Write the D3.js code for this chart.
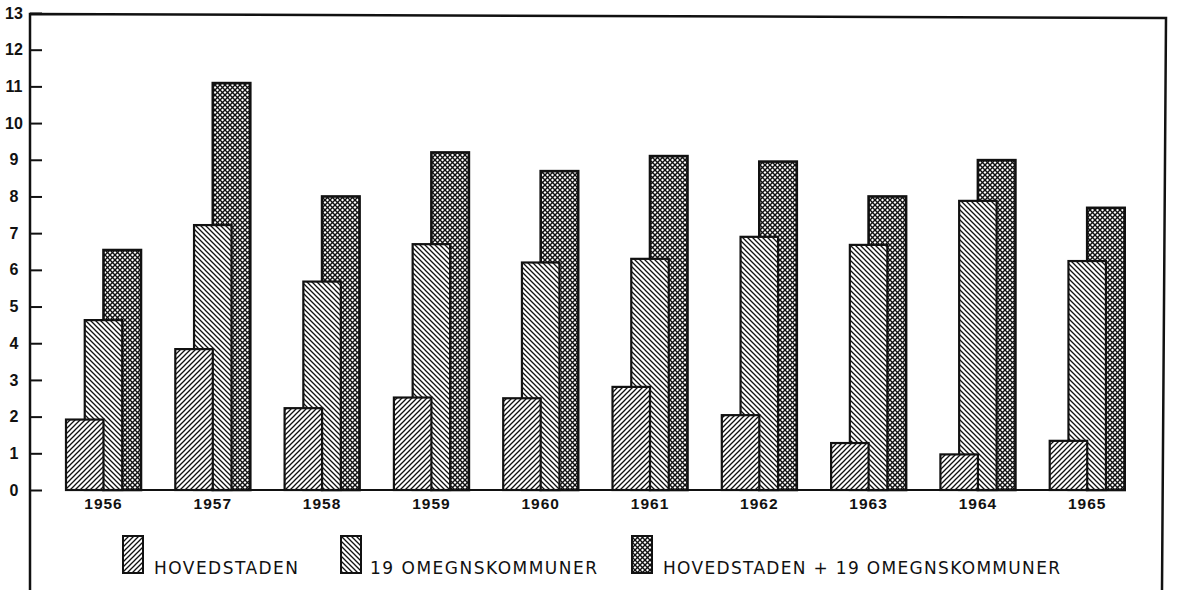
<!DOCTYPE html>
<html>
<head>
<meta charset="utf-8">
<script src="https://cdn.jsdelivr.net/npm/d3@7"></script>
<style>
  html, body { margin: 0; padding: 0; background: #fff; }
  svg { display: block; }
</style>
</head>
<body>
<svg id="chart" width="1177" height="590"></svg>
<script>
// ---- data ----
const years = ["1956","1957","1958","1959","1960","1961","1962","1963","1964","1965"];
const hovedstaden = [1.92, 3.84, 2.23, 2.52, 2.50, 2.81, 2.04, 1.28, 0.97, 1.34];
const omegn       = [4.63, 7.22, 5.68, 6.70, 6.20, 6.30, 6.90, 6.68, 7.88, 6.24];
const combined    = [6.54, 11.09, 8.00, 9.20, 8.69, 9.10, 8.95, 8.00, 8.99, 7.69];
const yTicks = [0,1,2,3,4,5,6,7,8,9,10,11,12,13];
const seriesNames = ["HOVEDSTADEN", "19 OMEGNSKOMMUNER", "HOVEDSTADEN + 19 OMEGNSKOMMUNER"];

const svg = d3.select("#chart");
const ink = "#111";

// ---- patterns ----
const defs = svg.append("defs");
function hatch(id, dirs, sw, size) {
  const p = defs.append("pattern").attr("id", id)
    .attr("patternUnits", "userSpaceOnUse")
    .attr("width", size).attr("height", size);
  p.append("rect").attr("width", size).attr("height", size).attr("fill", "#fff");
  dirs.forEach(d => {
    const s = size;
    const path = d === "/"
      ? `M${-1},${1} L${1},${-1} M0,${s} L${s},0 M${s-1},${s+1} L${s+1},${s-1}`
      : `M${-1},${s-1} L${1},${s+1} M0,0 L${s},${s} M${s-1},${-1} L${s+1},${1}`;
    p.append("path").attr("d", path).attr("stroke", ink)
      .attr("stroke-width", sw).attr("stroke-linecap", "square");
  });
}
hatch("pH", ["/"], 1.3, 5);
hatch("pO", ["\\"], 1.3, 5);
hatch("pC", ["/", "\\"], 1.4, 5);
const fills = ["url(#pH)", "url(#pO)", "url(#pC)"];

// ---- scales ----
const y = d3.scaleLinear().domain([0, 13]).range([490, 13]);
const x = d3.scaleBand().domain(years).range([66, 1124.7])
  .paddingInner(0.314).paddingOuter(0);
const bw = x.bandwidth() / 2;
const off = [0, x.bandwidth() / 4, x.bandwidth() / 2];

// ---- frame ----
svg.append("path")
  .attr("d", "M30,590 L30,14 L1166,18 L1162,590")
  .attr("fill", "none").attr("stroke", ink).attr("stroke-width", 2.5);

// ---- y axis ----
const yAxis = svg.append("g").attr("transform", "translate(30,0)")
  .call(d3.axisLeft(y).tickValues(yTicks).tickSize(-12).tickFormat(d3.format("d")));
yAxis.select(".domain").remove();
yAxis.selectAll(".tick line").attr("stroke", ink).attr("stroke-width", 2);
yAxis.selectAll(".tick text")
  .attr("x", -16).attr("text-anchor", "middle")
  .attr("font-family", "Liberation Sans, Arial, sans-serif")
  .attr("font-weight", "bold").attr("font-size", 16).attr("fill", ink);

// ---- bars (back to front: combined, omegn, hovedstaden) ----
const series = [hovedstaden, omegn, combined];
[2, 1, 0].forEach(si => {
  svg.append("g").selectAll("rect").data(years).join("rect")
    .attr("x", (d) => x(d) + off[si])
    .attr("y", (d, i) => y(series[si][i]))
    .attr("width", bw)
    .attr("height", (d, i) => y(0) - y(series[si][i]))
    .attr("fill", fills[si])
    .attr("stroke", ink)
    .attr("stroke-width", si === 2 ? 2.6 : 2.2);
});

// ---- baseline ----
svg.append("line")
  .attr("x1", x(years[0])).attr("x2", x(years[years.length - 1]) + x.bandwidth())
  .attr("y1", y(0)).attr("y2", y(0))
  .attr("stroke", ink).attr("stroke-width", 2.2);

// ---- x axis labels ----
const xAxis = svg.append("g").attr("transform", `translate(0,${y(0)})`)
  .call(d3.axisBottom(x).tickSize(0).tickPadding(8));
xAxis.select(".domain").remove();
xAxis.selectAll(".tick text")
  .attr("font-family", "Liberation Sans, Arial, sans-serif")
  .attr("font-weight", "bold").attr("font-size", 15.5)
  .attr("letter-spacing", 1).attr("fill", ink);

// ---- legend ----
const legendItems = [
  { sx: 123, tx: 154, tl: 144 },
  { sx: 341, tx: 370, tl: 227 },
  { sx: 632, tx: 663, tl: 397 }
];
const lg = svg.append("g");
legendItems.forEach((it, i) => {
  lg.append("rect").attr("x", it.sx).attr("y", 536).attr("width", 20).attr("height", 37)
    .attr("fill", fills[i]).attr("stroke", ink).attr("stroke-width", 2);
  lg.append("text").attr("x", it.tx).attr("y", 574)
    .attr("font-family", "DejaVu Sans, sans-serif").attr("font-size", 17)
    .attr("textLength", it.tl).attr("lengthAdjust", "spacing")
    .attr("fill", ink).text(seriesNames[i]);
});
</script>
</body>
</html>
